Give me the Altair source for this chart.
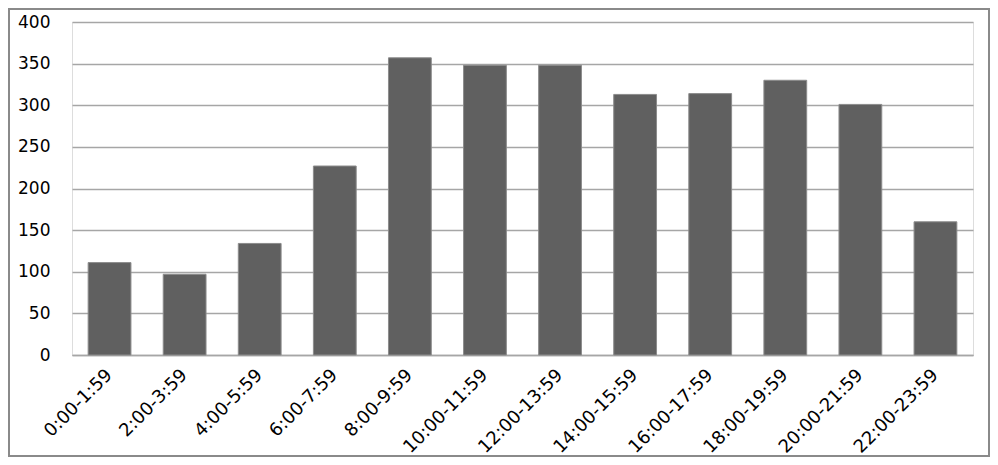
import altair as alt
import pandas as pd

categories = ["0:00-1:59", "2:00-3:59", "4:00-5:59", "6:00-7:59", "8:00-9:59",
              "10:00-11:59", "12:00-13:59", "14:00-15:59", "16:00-17:59",
              "18:00-19:59", "20:00-21:59", "22:00-23:59"]
values = [111, 97, 134, 227, 357, 348, 348, 313, 314, 330, 301, 160]
y_ticks = [0, 50, 100, 150, 200, 250, 300, 350, 400]

df = pd.DataFrame({"slot": categories, "count": values})

W, H = 901, 333
PL, PT, PR, PB = 64, 14, 17, 102

bars = alt.Chart(df).mark_bar(
    color="#606060", stroke="#8c8c8c", strokeWidth=1
).encode(
    x=alt.X("slot:N", sort=categories, title=None,
            scale=alt.Scale(paddingInner=0.43, paddingOuter=0.215),
            axis=alt.Axis(labelAngle=-45, labelAlign="right", labelBaseline="middle",
                          labelPadding=17, ticks=False, domain=True,
                          domainColor="#a6a6a6", domainWidth=1.5,
                          labelFont="DejaVu Sans", labelFontSize=18,
                          labelColor="#000000", grid=False)),
    y=alt.Y("count:Q", title=None,
            scale=alt.Scale(domain=[0, 400], nice=False),
            axis=alt.Axis(values=y_ticks, ticks=False, domain=False,
                          labelPadding=22, labelFont="DejaVu Sans",
                          labelFontSize=17, labelColor="#000000",
                          grid=True, gridColor="#a6a6a6", gridWidth=1.5)),
)

frame = alt.Chart(df).mark_rect(
    fill=None, stroke="#8a8a8a", strokeWidth=2, clip=False
).encode(
    x=alt.value(-PL + 1), x2=alt.value(W + PR - 1),
    y=alt.value(-PT + 1), y2=alt.value(H + PB - 1),
)

chart = alt.layer(frame, bars).properties(
    width=W, height=H,
    autosize=alt.AutoSizeParams(type="none"),
    padding={"left": PL, "top": PT, "right": PR, "bottom": PB},
).configure_view(stroke=None).configure(background="#ffffff")

chart.save("out.html", embed_options={"renderer": "svg", "actions": False})
